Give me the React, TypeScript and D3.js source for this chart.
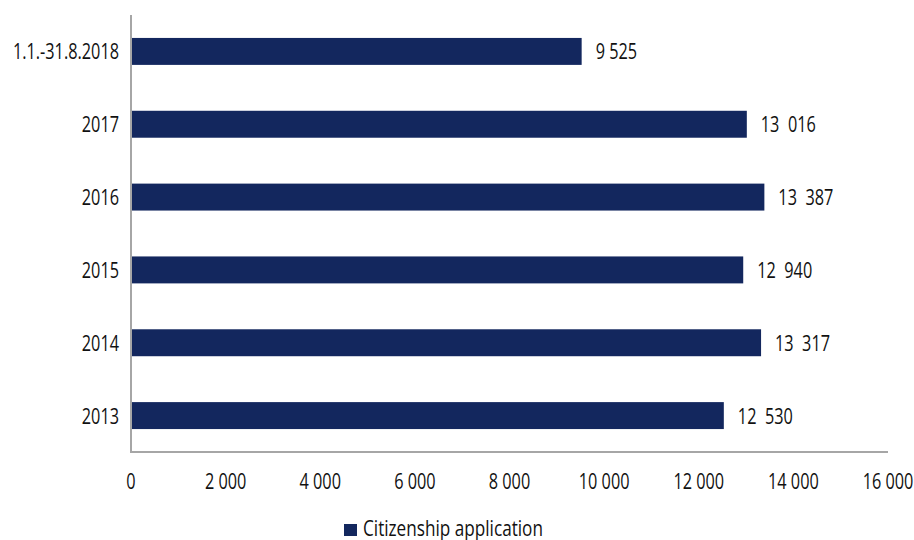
import React from "react";
import * as d3 from "d3";

const categories = ["1.1.-31.8.2018", "2017", "2016", "2015", "2014", "2013"];
const values = [9525, 13016, 13387, 12940, 13317, 12530];
const xTicks = [0, 2000, 4000, 6000, 8000, 10000, 12000, 14000, 16000];
const seriesName = "Citizenship application";

const W = 914;
const H = 540;
const FONT = "'Open Sans', 'Noto Sans', sans-serif";
const BAR = "#13275E";
const AXIS = "#A6A6A6";
const FS = 22;
const SX = 0.74;

const fmtTick = (v: number) => d3.format(",")(v).replace(/,/g, "\u00A0");
const fmtVal = (v: number) =>
  d3.format(",")(v).replace(/,/g, v >= 10000 ? "\u00A0\u00A0" : "\u00A0");

function CText(props: { x: number; y: number; anchor?: "start" | "middle" | "end"; sx?: number; children: React.ReactNode }) {
  return (
    <text
      transform={`translate(${props.x},${props.y}) scale(${props.sx ?? SX},1)`}
      dy="0.36em"
      textAnchor={props.anchor || "start"}
      fontSize={FS}
      fontWeight={500}
      fill="#111"
      style={{ whiteSpace: "pre" }}
    >
      {props.children}
    </text>
  );
}

export default function App() {
  const x = d3.scaleLinear().domain([0, 16000]).range([131, 888]);
  const y = d3
    .scaleBand<string>()
    .domain(categories)
    .range([15, 452])
    .paddingInner(0.63)
    .paddingOuter(0.315);

  return (
    <svg width={W} height={H} style={{ position: "absolute", left: 0, top: 0, background: "#fff" }} fontFamily={FONT}>
      {categories.map((c, i) => (
        <g key={c}>
          <rect x={x(0)} y={y(c)!} width={x(values[i]) - x(0)} height={y.bandwidth()} fill={BAR} />
          <CText x={x(0) - 12} y={y(c)! + y.bandwidth() / 2} anchor="end">
            {c}
          </CText>
          <CText x={x(values[i]) + 14} y={y(c)! + y.bandwidth() / 2}>
            {fmtVal(values[i])}
          </CText>
        </g>
      ))}
      <line x1={x(0)} x2={x(0)} y1={15} y2={452} stroke={AXIS} strokeWidth={2} />
      <line x1={x(0) - 1} x2={x(16000)} y1={452} y2={452} stroke={AXIS} strokeWidth={2} />
      {xTicks.map((t) => (
        <CText key={t} x={x(t)} y={481} anchor="middle">
          {fmtTick(t)}
        </CText>
      ))}
      <g>
        <rect x={344} y={524} width={13} height={12} fill={BAR} />
        <CText x={363} y={528} sx={0.78}>
          {seriesName}
        </CText>
      </g>
    </svg>
  );
}
